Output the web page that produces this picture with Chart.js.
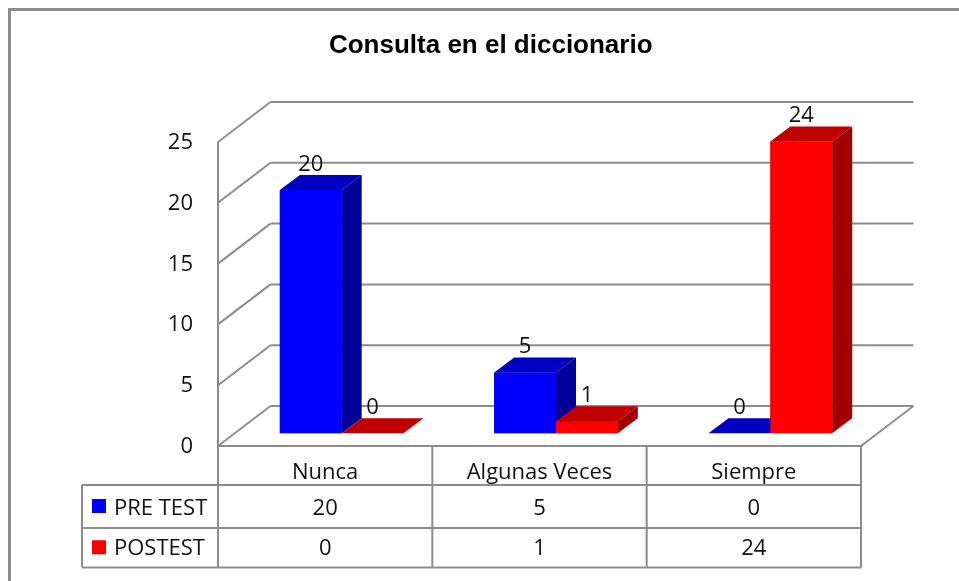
<!DOCTYPE html>
<html>
<head>
<meta charset="utf-8">
<script src="https://cdn.jsdelivr.net/npm/chart.js@4.4.0/dist/chart.umd.min.js"></script>
<style>
  html, body { margin: 0; padding: 0; background: #fff; }
  #wrap { width: 959px; height: 581px; }
</style>
</head>
<body>
<div id="wrap"><canvas id="chart" width="959" height="581"></canvas></div>
<script>
const categories = ['Nunca', 'Algunas Veces', 'Siempre'];
const seriesNames = ['PRE TEST', 'POSTEST'];
const preTest = [20, 5, 0];
const postTest = [0, 1, 24];
const yTicks = [0, 5, 10, 15, 20, 25];

const FONT = '"Open Sans", sans-serif';
const TEXT = '#111';
const GRID = '#8c8c8c';
// 3d offsets relative to the bar plane
const FRONT = { x: -16.5, y: 12.7 };
const BACK = { x: 36, y: -27.3 };
const DEPTH = { x: 20, y: 15 };

const faces = [
    { front: '#0000ff', side: '#000099', top: '#0000c0' },
    { front: '#ff0000', side: '#a00000', top: '#c00000' }
];

function poly(ctx, pts, fill) {
    ctx.beginPath();
    ctx.moveTo(pts[0][0], pts[0][1]);
    for (let i = 1; i < pts.length; i++) ctx.lineTo(pts[i][0], pts[i][1]);
    ctx.closePath();
    ctx.fillStyle = fill;
    ctx.fill();
}

function line(ctx, x1, y1, x2, y2) {
    ctx.beginPath();
    ctx.moveTo(x1, y1);
    ctx.lineTo(x2, y2);
    ctx.stroke();
}

const bar3d = {
    id: 'bar3d',
    beforeDraw(chart) {
        const ctx = chart.ctx;
        ctx.save();
        ctx.strokeStyle = '#8c8c8c';
        ctx.lineWidth = 3;
        ctx.beginPath();
        ctx.moveTo(9.5, 581);
        ctx.lineTo(9.5, 9.5);
        ctx.lineTo(959, 9.5);
        ctx.stroke();
        ctx.restore();
    },
    beforeDatasetsDraw(chart) {
        const ctx = chart.ctx;
        const a = chart.chartArea;
        const y = chart.scales.y;
        ctx.save();
        ctx.strokeStyle = GRID;
        ctx.lineWidth = 2;
        yTicks.forEach(v => {
            const py = y.getPixelForValue(v);
            line(ctx, a.left + FRONT.x, py + FRONT.y, a.left + BACK.x, py + BACK.y);
            line(ctx, a.left + BACK.x, py + BACK.y, a.right + BACK.x, py + BACK.y);
        });
        const p0 = y.getPixelForValue(0);
        const pMax = y.getPixelForValue(yTicks[yTicks.length - 1]);
        // floor right edge
        line(ctx, a.right + FRONT.x, p0 + FRONT.y, a.right + BACK.x, p0 + BACK.y);
        // front vertical axis
        line(ctx, a.left + FRONT.x, pMax + FRONT.y, a.left + FRONT.x, p0 + FRONT.y);
        ctx.restore();
    },
    afterDatasetsDraw(chart) {
        const ctx = chart.ctx;
        ctx.save();
        const metas = chart.data.datasets.map((d, i) => chart.getDatasetMeta(i));
        categories.forEach((c, i) => {
            metas.forEach((meta, d) => {
                const el = meta.data[i];
                const l = el.x - el.width / 2, r = el.x + el.width / 2;
                const t = el.y, b = el.base;
                const f = faces[d];
                if (b - t > 0.5) {
                    ctx.fillStyle = f.front;
                    ctx.fillRect(l, t, r - l, b - t);
                    poly(ctx, [[r, t], [r + DEPTH.x, t - DEPTH.y], [r + DEPTH.x, b - DEPTH.y], [r, b]], f.side);
                }
                poly(ctx, [[l, t], [r, t], [r + DEPTH.x, t - DEPTH.y], [l + DEPTH.x, t - DEPTH.y]], f.top);
            });
        });
        // data labels
        ctx.fillStyle = TEXT;
        ctx.font = '22px ' + FONT;
        ctx.textAlign = 'center';
        ctx.textBaseline = 'alphabetic';
        metas.forEach((meta, d) => {
            meta.data.forEach((el, i) => {
                const v = chart.data.datasets[d].data[i];
                ctx.fillText(String(v), el.x, el.y - DEPTH.y - 4.5);
            });
        });
        ctx.restore();
    },
    afterDraw(chart) {
        // data table under the floor
        const ctx = chart.ctx;
        const a = chart.chartArea;
        const x = chart.scales.x;
        const y = chart.scales.y;
        const top = y.getPixelForValue(0) + FRONT.y;
        const rowsY = [top, top + 39, top + 82, top + 121.5];
        const baselines = [top + 32.5, top + 69, top + 109];
        const colL = a.left + FRONT.x;
        const colR = a.right + FRONT.x;
        const catW = (colR - colL) / categories.length;
        const labelL = 82;

        ctx.save();
        ctx.strokeStyle = GRID;
        ctx.lineWidth = 2;
        line(ctx, colL, rowsY[0], colR, rowsY[0]);
        for (let r = 1; r < rowsY.length; r++) line(ctx, labelL, rowsY[r], colR, rowsY[r]);
        line(ctx, labelL, rowsY[1], labelL, rowsY[3]);
        for (let c = 0; c <= categories.length; c++) {
            const cx = colL + c * catW;
            line(ctx, cx, rowsY[0], cx, rowsY[3]);
        }

        ctx.fillStyle = TEXT;
        ctx.font = '22px ' + FONT;
        ctx.textBaseline = 'alphabetic';
        ctx.textAlign = 'center';
        categories.forEach((c, i) => {
            const cx = x.getPixelForValue(i) + FRONT.x;
            ctx.fillText(c, cx, baselines[0]);
        });
        chart.data.datasets.forEach((ds, d) => {
            const rc = (rowsY[d + 1] + rowsY[d + 2]) / 2;
            ctx.fillStyle = faces[d].front;
            ctx.fillRect(92, rc - 7.5, 14, 14);
            ctx.fillStyle = TEXT;
            ctx.textAlign = 'left';
            ctx.fillText(ds.label, 114, baselines[d + 1]);
            ctx.textAlign = 'center';
            ds.data.forEach((v, i) => {
                const cx = x.getPixelForValue(i) + FRONT.x;
                ctx.fillText(String(v), cx, baselines[d + 1]);
            });
        });
        ctx.restore();
    }
};

new Chart(document.getElementById('chart'), {
    type: 'bar',
    data: {
        labels: categories,
        datasets: [
            { label: seriesNames[0], data: preTest, backgroundColor: faces[0].front },
            { label: seriesNames[1], data: postTest, backgroundColor: faces[1].front }
        ]
    },
    options: {
        responsive: false,
        animation: false,
        categoryPercentage: 0.577,
        barPercentage: 1,
        layout: { padding: { left: 104, right: 81.5, top: 0, bottom: 147.7 } },
        plugins: {
            legend: { display: false },
            tooltip: { enabled: false },
            title: {
                display: true,
                text: 'Consulta en el diccionario',
                color: '#000',
                font: { family: '"Liberation Sans", Arial, sans-serif', size: 26, weight: 'bold' },
                padding: { top: 30.4, bottom: 67.7 }
            }
        },
        scales: {
            x: { display: false },
            y: {
                min: 0,
                max: 25,
                grid: { display: false, drawTicks: false, tickLength: 0 },
                border: { display: false },
                afterBuildTicks: s => { s.ticks = yTicks.map(v => ({ value: v })); },
                afterFit: s => { s.width = 130.5; },
                ticks: {
                    padding: 41.5,
                    labelOffset: 13.5,
                    color: TEXT,
                    font: { family: FONT, size: 22 }
                }
            }
        }
    },
    plugins: [bar3d]
});
</script>
</body>
</html>
